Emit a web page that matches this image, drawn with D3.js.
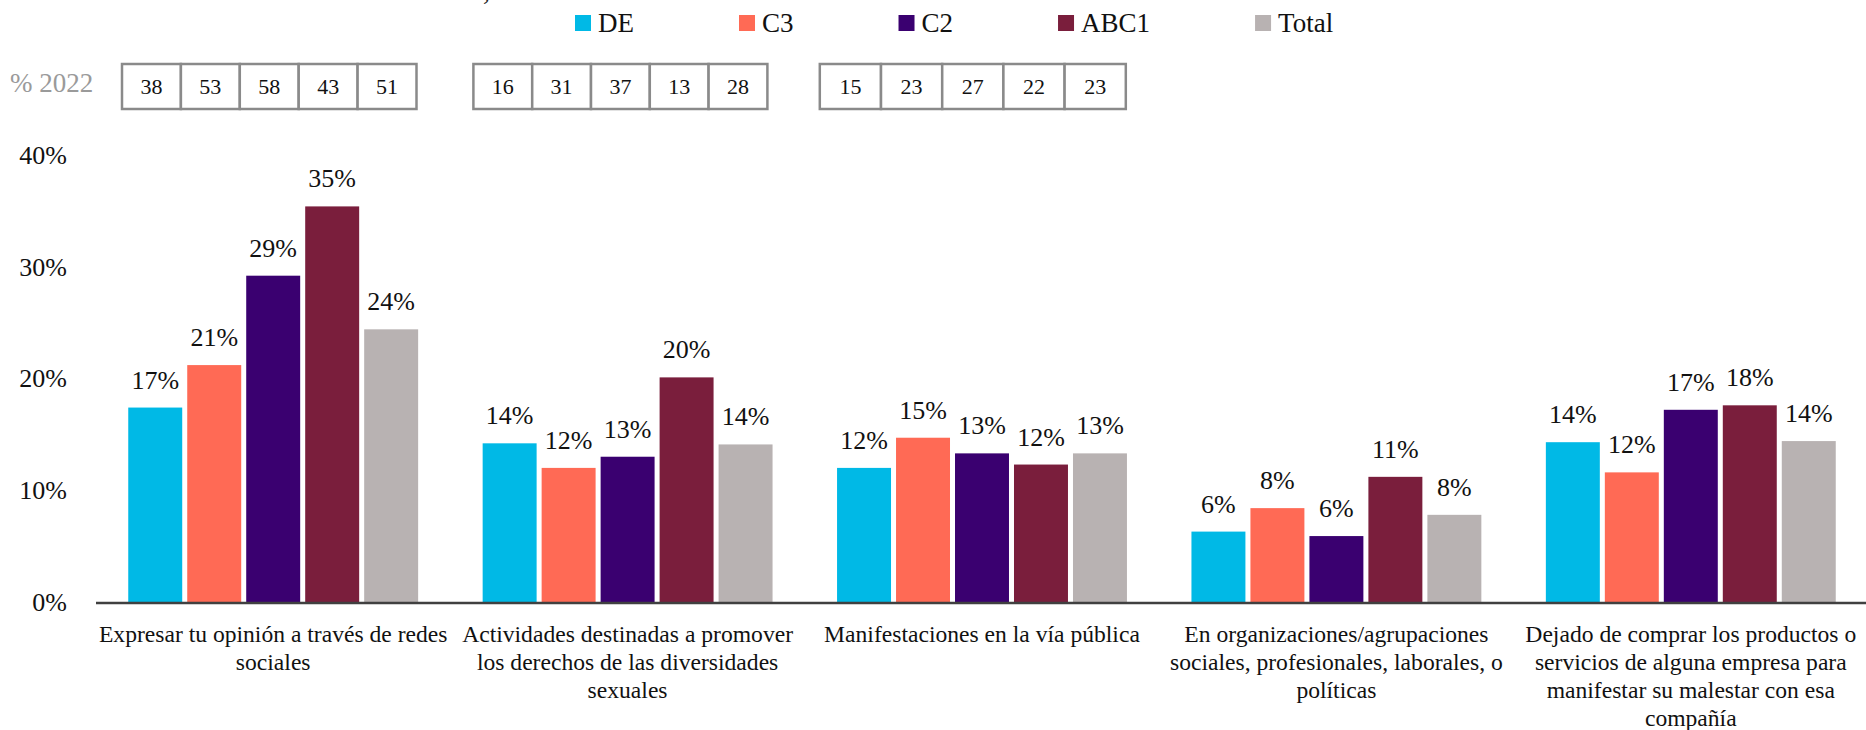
<!DOCTYPE html>
<html>
<head>
<meta charset="utf-8">
<script src="https://cdn.jsdelivr.net/npm/d3@7"></script>
<style>
  body { margin: 0; background: #fff; }
  text { font-family: "Liberation Serif", "DejaVu Serif", serif; }
</style>
</head>
<body>
<div id="chart-area"></div>
<script>
let width = 1866,
    height = 730;

// categories (line breaks as in the original)
let categories = [
    "Expresar tu opinión a través de redes\nsociales",
    "Actividades destinadas a promover\nlos derechos de las diversidades\nsexuales",
    "Manifestaciones en la vía pública",
    "En organizaciones/agrupaciones\nsociales, profesionales, laborales, o\npolíticas",
    "Dejado de comprar los productos o\nservicios de alguna empresa para\nmanifestar su malestar con esa\ncompañía"
];
let series = ["DE", "C3", "C2", "ABC1", "Total"];
let colors = ["#00B9E6", "#FF6A55", "#3A0070", "#7A1E3C", "#B8B2B2"];

// % values per series, one per category
let valDE    = [17.4, 14.2, 12.0, 6.3, 14.3];
let valC3    = [21.2, 12.0, 14.7, 8.4, 11.6];
let valC2    = [29.2, 13.0, 13.3, 5.9, 17.2];
let valABC1  = [35.4, 20.1, 12.3, 11.2, 17.6];
let valTotal = [24.4, 14.1, 13.3, 7.8, 14.4];

// 2022 reference values (only first three categories)
let prev2022 = [
    [38, 53, 58, 43, 51],
    [16, 31, 37, 13, 28],
    [15, 23, 27, 22, 23]
];
let yTicks = [0, 10, 20, 30, 40];

let values = [valDE, valC3, valC2, valABC1, valTotal];

let svg = d3.select("#chart-area")
    .append("svg")
    .attr("width", width)
    .attr("height", height);

// scales
let x0 = d3.scaleBand()
    .domain(d3.range(categories.length))
    .range([96, 1868])
    .padding(0);

let x1 = d3.scaleBand()
    .domain(series)
    .range([x0.bandwidth() * 0.091, x0.bandwidth() * 0.909])
    .paddingInner(0.085);

let y = d3.scaleLinear()
    .domain([0, 40])
    .range([602, 155]);

// clipped title fragment at the very top
svg.append("text")
    .attr("x", 483)
    .attr("y", 0)
    .style("font-size", "28px")
    .attr("fill", "#222")
    .text(",");

// legend
let lx = 575;
series.forEach(function(s, i){
    let g = svg.append("g").attr("transform", "translate(" + lx + ",23)");
    g.append("rect")
        .attr("x", 0).attr("y", -8)
        .attr("width", 16).attr("height", 16)
        .attr("fill", colors[i]);
    let t = g.append("text")
        .attr("x", 23)
        .attr("dy", "0.34em")
        .style("font-size", "27px")
        .attr("fill", "#111")
        .text(s);
    lx += 23 + t.node().getComputedTextLength() + 105;
});

// y axis labels (no line)
svg.append("g")
    .selectAll("text")
    .data(yTicks)
    .enter()
    .append("text")
    .attr("x", 67)
    .attr("y", function(d){ return y(d); })
    .attr("dy", "0.34em")
    .attr("text-anchor", "end")
    .style("font-size", "26px")
    .attr("fill", "#111")
    .text(function(d){ return d + "%"; });

// bars
let groups = svg.append("g")
    .selectAll("g")
    .data(categories)
    .enter()
    .append("g")
    .attr("transform", function(d, i){ return "translate(" + x0(i) + ",0)"; });

groups.selectAll("rect")
    .data(function(d, i){
        return series.map(function(s, k){ return {s: s, k: k, v: values[k][i]}; });
    })
    .enter()
    .append("rect")
    .attr("x", function(d){ return x1(d.s); })
    .attr("y", function(d){ return y(d.v); })
    .attr("width", x1.bandwidth())
    .attr("height", function(d){ return y(0) - y(d.v); })
    .attr("fill", function(d){ return colors[d.k]; });

// data labels
groups.selectAll("text.lbl")
    .data(function(d, i){
        return series.map(function(s, k){ return {s: s, k: k, v: values[k][i]}; });
    })
    .enter()
    .append("text")
    .attr("class", "lbl")
    .attr("x", function(d){ return x1(d.s) + x1.bandwidth() / 2; })
    .attr("y", function(d){ return y(d.v) - 19; })
    .attr("text-anchor", "middle")
    .style("font-size", "26px")
    .attr("fill", "#111")
    .text(function(d){ return Math.round(d.v) + "%"; });

// x axis baseline
svg.append("line")
    .attr("x1", 96).attr("x2", width)
    .attr("y1", y(0) + 1).attr("y2", y(0) + 1)
    .attr("stroke", "#404040")
    .attr("stroke-width", 2.5);

// category labels
groups.append("text")
    .attr("text-anchor", "middle")
    .style("font-size", "23.6px")
    .attr("fill", "#111")
    .each(function(d){
        let t = d3.select(this);
        d.split("\n").forEach(function(line, j){
            t.append("tspan")
                .attr("x", x0.bandwidth() / 2)
                .attr("y", 642 + j * 28)
                .text(line);
        });
    });

// 2022 boxes
svg.append("text")
    .attr("x", 10)
    .attr("y", 83)
    .attr("dy", "0.34em")
    .style("font-size", "27px")
    .attr("fill", "#9a9a9a")
    .text("% 2022");

let boxInset = [26, 23, 15];
let cellW = [58.9, 58.8, 61.2];
prev2022.forEach(function(row, i){
    let bx = x0(i) + boxInset[i];
    let g = svg.append("g").attr("transform", "translate(" + bx + ",64)");
    row.forEach(function(v, k){
        g.append("rect")
            .attr("x", k * cellW[i])
            .attr("y", 0)
            .attr("width", cellW[i])
            .attr("height", 45)
            .attr("fill", "#fff")
            .attr("stroke", "#8a8a8a")
            .attr("stroke-width", 2.5);
        g.append("text")
            .attr("x", k * cellW[i] + cellW[i] / 2)
            .attr("y", 23)
            .attr("dy", "0.34em")
            .attr("text-anchor", "middle")
            .style("font-size", "22px")
            .attr("fill", "#111")
            .text(v);
    });
});
</script>
</body>
</html>
